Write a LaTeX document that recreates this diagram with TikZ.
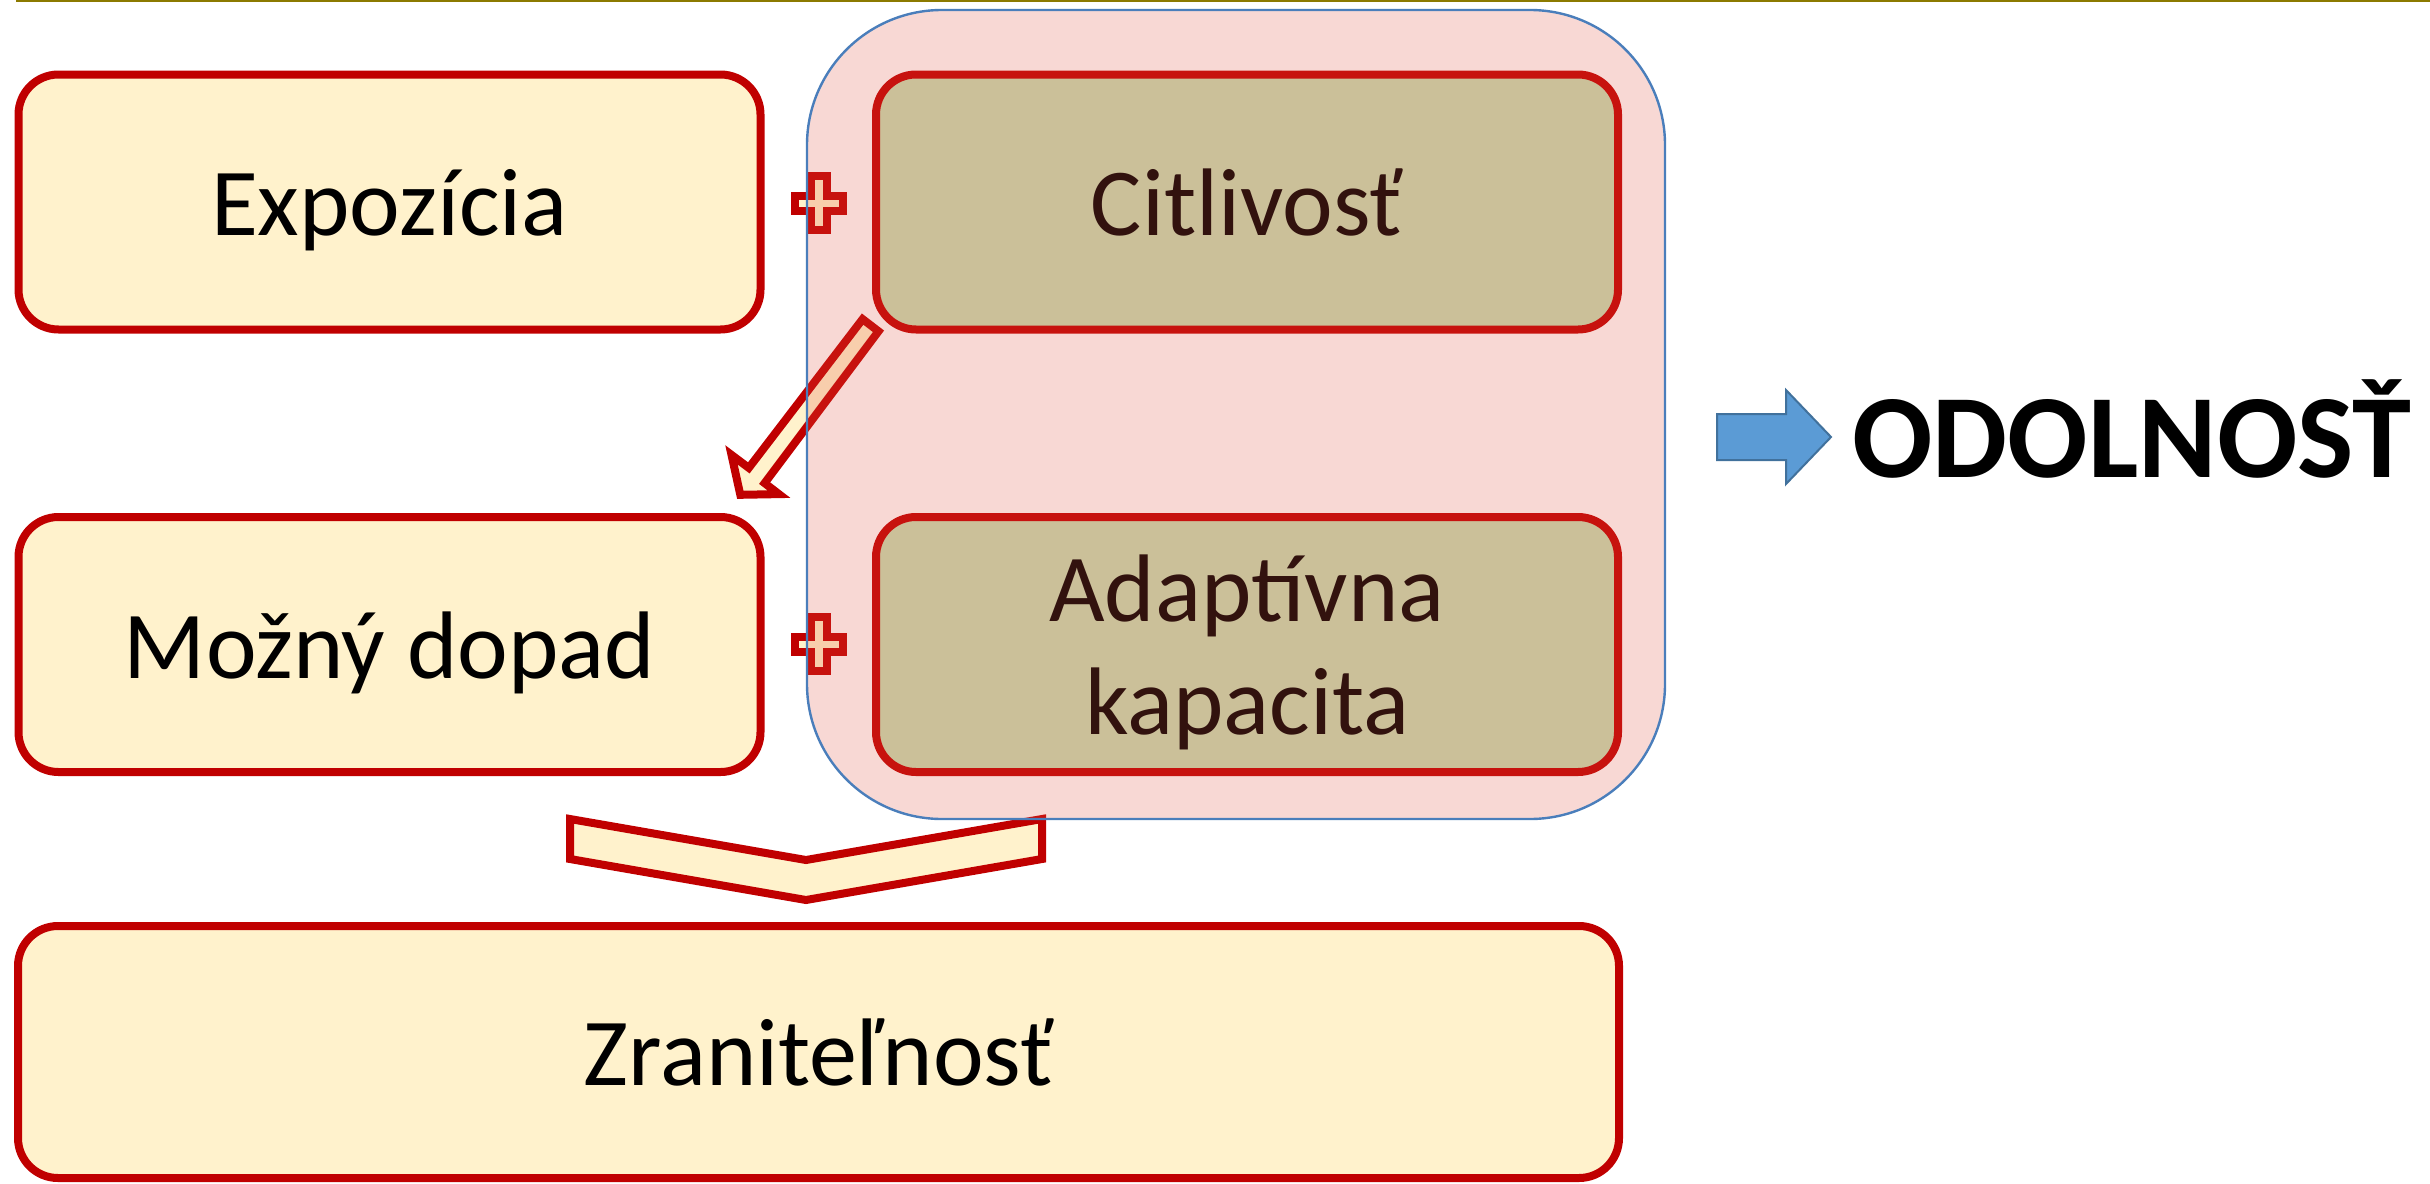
\documentclass[tikz,border=0pt]{standalone}
\usepackage{fontspec}
\setmainfont{Carlito}
\definecolor{cream}{RGB}{255,242,204}
\definecolor{boxred}{RGB}{192,0,0}
\definecolor{lgreen}{RGB}{197,224,180}
\definecolor{overlay}{RGB}{224,81,63}
\definecolor{cblue}{RGB}{74,126,187}
\definecolor{afill}{RGB}{91,155,213}
\definecolor{aline}{RGB}{65,113,156}
\definecolor{olive}{RGB}{140,122,0}
\newcommand\bxs{\rule[-11.5pt]{0pt}{56.5pt}}
\begin{document}
\begin{tikzpicture}[x=0.5pt,y=-0.5pt,
  box/.style={draw=boxred, line width=4pt, fill=cream, rounded corners=20pt,
    minimum width=371pt, minimum height=127.5pt, inner sep=0pt, align=center,
    font=\fontsize{48pt}{56.5pt}\selectfont},
  gbox/.style={box, fill=lgreen},
  container/.style={draw=cblue, line width=1.2pt, fill=overlay, fill opacity=0.224,
    rounded corners=67.5pt, minimum width=429pt, minimum height=404.5pt, inner sep=0pt},
  blockarrow/.style={draw=boxred, line width=4pt, fill=cream, line join=miter},
  plusshape/.pic={
    \draw[blockarrow] (-8,-27) -- (8,-27) -- (8,-7.5) -- (24,-7.5) -- (24,7.5) -- (8,7.5)
      -- (8,27) -- (-8,27) -- (-8,7.5) -- (-24,7.5) -- (-24,-7.5) -- (-8,-7.5) -- cycle;
  }]
\useasboundingbox (0,0) rectangle (2430,1183);
% top rule
\coordinate (ruleL) at (16,1);
\coordinate (ruleR) at (2430,1);
\draw[olive, line width=1pt] (ruleL) -- (ruleR);
% boxes
\node[box]  (expo)  at (389.5,202)  {\bxs Expozícia};
\node[gbox] (citl)  at (1247,202)   {\bxs Citlivosť};
\node[box]  (mozny) at (389.5,644.5){\bxs Možný dopad};
\node[gbox] (adapt) at (1247,644.5) {\bxs Adaptívna\\\bxs kapacita};
\node[box, minimum width=800.5pt, minimum height=126pt] (zran) at (818.5,1052) {\bxs Zraniteľnosť};
% plus signs
\pic at (819,203) {plusshape};
\pic at (819,644) {plusshape};
% diagonal arrow Citlivost -> Mozny dopad
\draw[blockarrow] (862.6,319.1) -- (748.8,467.9) -- (731.5,454.9) -- (740.3,494.8)
  -- (778.9,494.1) -- (764.6,483.1) -- (878.5,331.3) -- cycle;
% chevron
\draw[blockarrow] (570,819) -- (806,860) -- (1042,819) -- (1042,859) -- (806,900) -- (570,859) -- cycle;
% container overlay
\node[container] (cont) at (1236,414.5) {};
% blue arrow and result
\draw[draw=aline, fill=afill, line width=1pt, line join=miter]
  (1717,414) -- (1786,414) -- (1786,390) -- (1831,437) -- (1786,484) -- (1786,460) -- (1717,460) -- cycle;
\node[anchor=base west, inner sep=0pt, font=\fontsize{59.5pt}{62pt}\selectfont\bfseries] (odol) at (1852,477) {ODOLNOSŤ};
\end{tikzpicture}
\end{document}
